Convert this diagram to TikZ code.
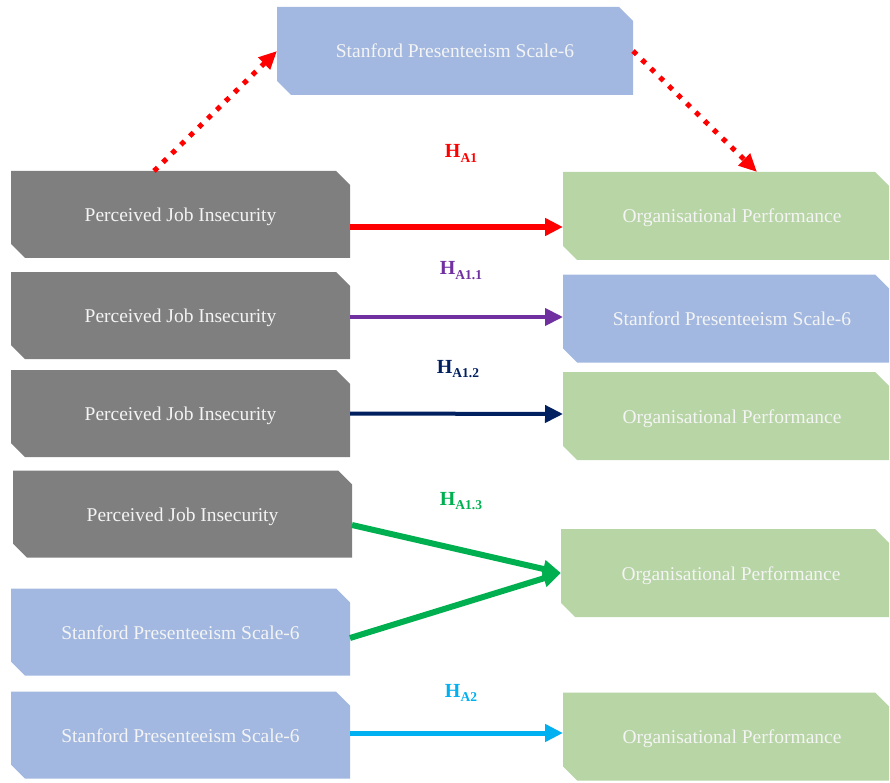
\documentclass[tikz,border=0pt]{standalone}
\usepackage{fontspec}
\setmainfont{Liberation Serif}
\usetikzlibrary{arrows.meta}

\definecolor{boxgray}{HTML}{7F7F7F}
\definecolor{boxblue}{HTML}{A2B8E0}
\definecolor{boxgreen}{HTML}{B7D5A5}
\definecolor{boxtext}{HTML}{F4F4F4}
\definecolor{hred}{HTML}{FF0000}
\definecolor{hpurple}{HTML}{7030A0}
\definecolor{hnavy}{HTML}{002060}
\definecolor{hgreen}{HTML}{00B050}
\definecolor{hcyan}{HTML}{00B0F0}

\tikzset{
  % rectangle with the north-east and south-west corners cut off
  snipbox/.style={rectangle, draw=none, inner sep=0pt, outer sep=0pt,
    text=boxtext, font=\fontsize{19.5}{22}\selectfont,
    text height=14pt, text depth=0pt,
    path picture={\fill[#1]
      (path picture bounding box.north west)
      -- ([xshift=-14pt]path picture bounding box.north east)
      -- ([yshift=-14pt]path picture bounding box.north east)
      -- (path picture bounding box.south east)
      -- ([xshift=14pt]path picture bounding box.south west)
      -- ([yshift=14pt]path picture bounding box.south west)
      -- cycle;}},
  leftbox/.style={snipbox=#1, minimum width=339pt, minimum height=87pt},
  rightbox/.style={snipbox=#1, minimum width=326pt, minimum height=88pt},
  link/.style={-{Triangle[length=18pt,width=17pt]}},
  dotlink/.style={-{Triangle[length=18pt,width=16pt]}, draw=hred, line width=5pt,
    dash pattern=on 5pt off 7.5pt},
  hyp/.style={anchor=base, font=\bfseries\fontsize{20}{20}\selectfont}
}
\newcommand{\hlabel}[1]{H\raisebox{-0.45ex}{\fontsize{13.5}{13.5}\selectfont #1}}

\begin{document}
\begin{tikzpicture}[x=1pt,y=-1pt]
\useasboundingbox (0,0) rectangle (890,783);

% boxes
\node[snipbox=boxblue, minimum width=356pt, minimum height=88pt] (top) at (455,51) {Stanford Presenteeism Scale-6};

\node[leftbox=boxgray] (p1) at (180.5,214.5) {Perceived Job Insecurity};
\node[rightbox=boxgreen] (o1) at (726,216) {\hspace{12pt}Organisational Performance};

\node[leftbox=boxgray] (p2) at (180.5,315.5) {Perceived Job Insecurity};
\node[rightbox=boxblue] (s2) at (726,318.5) {\hspace{12pt}Stanford Presenteeism Scale-6};

\node[leftbox=boxgray] (p3) at (180.5,413.5) {Perceived Job Insecurity};
\node[rightbox=boxgreen] (o3) at (726,416) {\hspace{12pt}Organisational Performance};

\node[leftbox=boxgray] (p4) at (182.5,514) {Perceived Job Insecurity};
\node[rightbox=boxgreen, minimum width=328pt] (o4) at (725,573) {\hspace{12pt}Organisational Performance};
\node[leftbox=boxblue] (s5) at (180.5,632) {Stanford Presenteeism Scale-6};

\node[leftbox=boxblue] (s6) at (180.5,735) {Stanford Presenteeism Scale-6};
\node[rightbox=boxgreen] (o6) at (726,736.5) {\hspace{12pt}Organisational Performance};

% mediation path through the presenteeism scale
\draw[dotlink] ([xshift=-26.5pt]p1.north) -- (top.west);
\draw[dotlink] (top.east) -- ([xshift=31pt]o1.north);

% direct hypotheses
\draw[link, draw=hred, line width=5.5pt] ([yshift=-12.5pt]p1.east) -- ([yshift=-11pt]o1.west);
\draw[link, draw=hpurple, line width=4pt] ([yshift=-1.5pt]p2.east) -- ([yshift=1.5pt]s2.west);
\draw[link, draw=hnavy, line width=4pt] (p3.east) -- ([yshift=2pt]o3.west);
\draw[link, draw=hgreen, line width=6pt] ([yshift=-11pt]p4.east) -- (o4.west);
\draw[link, draw=hgreen, line width=6pt] ([yshift=-6pt]s5.east) -- (o4.west);
\draw[link, draw=hcyan, line width=5pt] ([yshift=2pt]s6.east) -- ([yshift=3.5pt]o6.west);

% hypothesis labels
\node[hyp, text=hred] (h1) at (461,158) {\hlabel{A1}};
\node[hyp, text=hpurple] (h11) at (461,275) {\hlabel{A1.1}};
\node[hyp, text=hnavy] (h12) at (458,373) {\hlabel{A1.2}};
\node[hyp, text=hgreen] (h13) at (461,505) {\hlabel{A1.3}};
\node[hyp, text=hcyan] (h2) at (461,697) {\hlabel{A2}};
\end{tikzpicture}
\end{document}
